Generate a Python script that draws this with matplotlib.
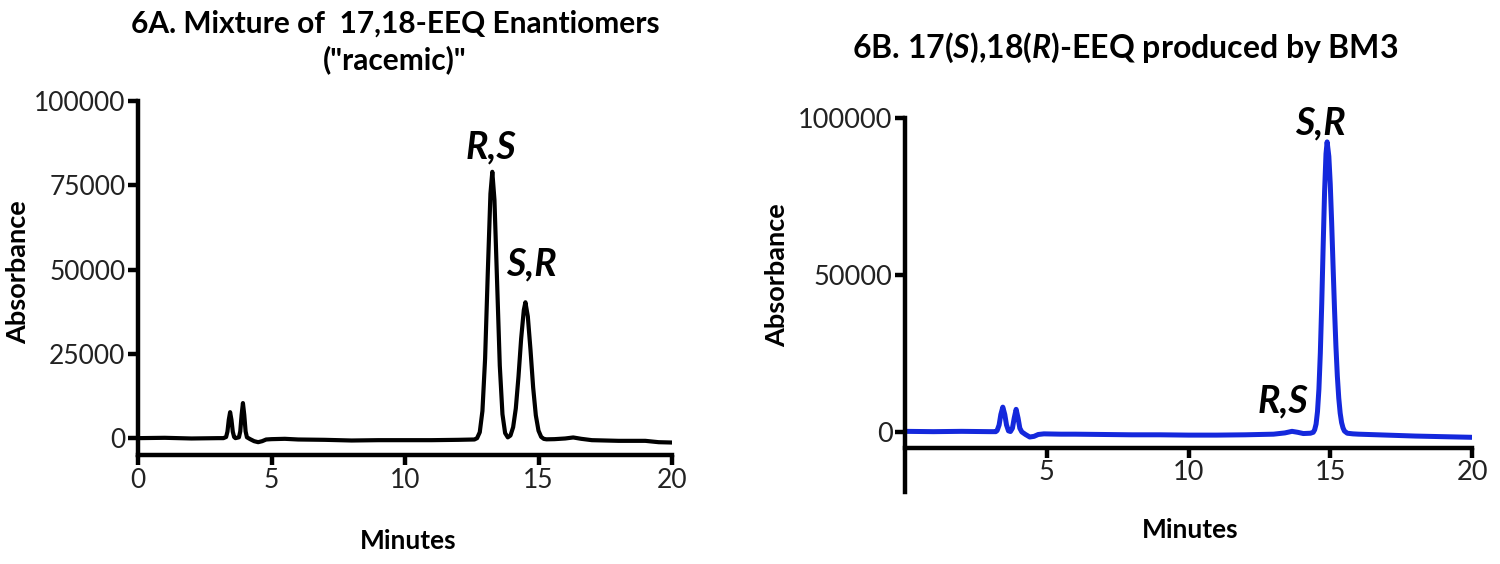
import matplotlib
matplotlib.use("Agg")
import matplotlib.pyplot as plt

plt.rcParams['font.family'] = ['Lato', 'DejaVu Sans']
plt.rcParams['mathtext.fontset'] = 'custom'
plt.rcParams['mathtext.it'] = 'Lato:italic:bold'
plt.rcParams['mathtext.rm'] = 'Lato:bold'

# ---------------- data ----------------
# Panel A: racemic mixture (time in minutes, absorbance)
time_a = [0.0, 1.0, 2.0, 3.0, 3.2, 3.30, 3.35, 3.40, 3.45, 3.50, 3.55, 3.60, 3.65,
          3.78, 3.83, 3.88, 3.93, 3.98, 4.03, 4.08, 4.2, 4.35, 4.5, 4.65, 4.8, 5.0,
          5.5, 6.0, 7.0, 8.0, 9.0, 10.0, 11.0, 12.0, 12.6, 12.7, 12.8, 12.9, 13.0,
          13.1, 13.2, 13.27, 13.35, 13.45, 13.55, 13.65, 13.75, 13.85, 13.95, 14.05,
          14.15, 14.25, 14.35, 14.45, 14.51, 14.6, 14.7, 14.8, 14.9, 15.0, 15.1,
          15.2, 15.3, 15.6, 16.0, 16.3, 16.6, 17.0, 18.0, 19.0, 19.5, 20.0]
abs_a = [0, 100, -100, 0, 0, 340, 1920, 5440, 7700, 5440, 1920, 340, 0,
         250, 2000, 6880, 10400, 6880, 2000, 250, -300, -900, -1200, -900, -400, -300,
         -200, -400, -500, -700, -600, -600, -600, -500, -400, 0, 1750, 8050, 23600,
         48900, 72500, 79000, 70700, 46100, 21500, 7100, 1500, 230, 780, 3240,
         8800, 18200, 29500, 38000, 40300, 36100, 26200, 15000, 6750, 2220, 370,
         -220, -350, -300, -100, 200, -200, -600, -800, -800, -1200, -1300]

# Panel B: BM3 product
time_b = [0.0, 1.0, 2.0, 3.0, 3.2, 3.25, 3.32, 3.38, 3.45, 3.52, 3.58, 3.65, 3.72,
          3.79, 3.85, 3.92, 3.99, 4.05, 4.12, 4.25, 4.4, 4.55, 4.7, 4.9, 5.5, 6.0,
          7.0, 8.0, 9.0, 10.0, 11.0, 12.0, 12.5, 13.0, 13.4, 13.65, 13.85, 14.05,
          14.3, 14.4, 14.45, 14.5, 14.55, 14.6, 14.65, 14.7, 14.75, 14.8, 14.85,
          14.89, 14.95, 15.0, 15.05, 15.1, 15.15, 15.2, 15.25, 15.3, 15.35, 15.4,
          15.45, 15.5, 15.6, 15.8, 16.0, 17.0, 18.0, 19.0, 20.0]
abs_b = [300, 200, 300, 200, 200, 550, 2340, 5650, 8000, 5650, 2340, 450, 250,
         1310, 4430, 7300, 4430, 1310, 120, -700, -1500, -1300, -700, -500, -600, -600,
         -700, -800, -800, -900, -900, -800, -700, -600, -200, 300, 0, -400,
         -300, 0, 800, 2600, 6600, 13700, 25200, 41000, 59300, 76500, 88600,
         92400, 87800, 79000, 66600, 52700, 39300, 27400, 17900, 10900, 6100, 3100,
         1400, 400, -300, -500, -600, -900, -1200, -1400, -1600]

xticks_a = [0, 5, 10, 15, 20]
yticks_a = [0, 25000, 50000, 75000, 100000]
xticks_b = [5, 10, 15, 20]
yticks_b = [0, 50000, 100000]

title_a = '6A. Mixture of  17,18-EEQ Enantiomers\n("racemic)"'
title_b = r'6B. 17($S$),18($R$)-EEQ produced by BM3'

# ---------------- figure ----------------
W, H = 1500, 564
fig = plt.figure(figsize=(W / 100, H / 100), dpi=100)


def box(x0, x1, ytop, ybot):
    return [x0 / W, 1 - ybot / H, (x1 - x0) / W, (ybot - ytop) / H]


spine_lw = 3.2
tick_fs = 19

axA = fig.add_axes(box(138, 672, 101, 455))
axA.plot(time_a, abs_a, color='black', lw=3.0, solid_joinstyle='round')
axA.set_xlim(0, 20)
axA.set_ylim(-5000, 100000)
axA.set_xticks(xticks_a)
axA.set_yticks(yticks_a)

axB = fig.add_axes(box(905, 1472, 118, 492))
axB.plot(time_b, abs_b, color='#1428DC', lw=3.6, solid_joinstyle='round')
axB.set_xlim(0, 20)
axB.set_ylim(-19000, 100000)
axB.spines['bottom'].set_position(('data', -5000))
axB.set_xticks(xticks_b)
axB.set_yticks(yticks_b)

for ax in (axA, axB):
    for s in ('top', 'right'):
        ax.spines[s].set_visible(False)
    for s in ('left', 'bottom'):
        ax.spines[s].set_linewidth(spine_lw)
    ax.tick_params(direction='out', length=7, width=spine_lw, labelsize=tick_fs,
                   pad=2, colors='black')
    ax.patch.set_visible(False)

axB.tick_params(labelsize=19.5)

for lab in axA.get_xticklabels() + axA.get_yticklabels():
    lab.set_color('#222222')
for lab in axB.get_xticklabels() + axB.get_yticklabels():
    lab.set_color('#222222')

# titles
fig.text(395 / W, 1 - 42 / H, title_a, ha='center', va='center', fontsize=21.5,
         fontweight='bold', linespacing=1.3)
fig.text(1125 / W, 1 - 48 / H, title_b, ha='center', va='center', fontsize=23,
         fontweight='bold')

# axis labels
fig.text(18 / W, 1 - 272 / H, 'Absorbance', rotation=90, ha='center', va='center',
         fontsize=19.5, fontweight='bold')
fig.text(777 / W, 1 - 275 / H, 'Absorbance', rotation=90, ha='center', va='center',
         fontsize=19.5, fontweight='bold')
fig.text(408 / W, 1 - 541 / H, 'Minutes', ha='center', va='center', fontsize=19,
         fontweight='bold')
fig.text(1190 / W, 1 - 530 / H, 'Minutes', ha='center', va='center', fontsize=19,
         fontweight='bold')

# peak annotations
ann = dict(fontsize=27, fontweight='bold', fontstyle='italic', ha='center',
           va='baseline')
axA.text(13.22, 83000, 'R,S', **ann)
axA.text(14.72, 48300, 'S,R', **ann)
axB.text(14.64, 94600, 'S,R', **ann)
axB.text(13.33, 6400, 'R,S', **ann)

fig.savefig('out.png', dpi=100, facecolor='white')
